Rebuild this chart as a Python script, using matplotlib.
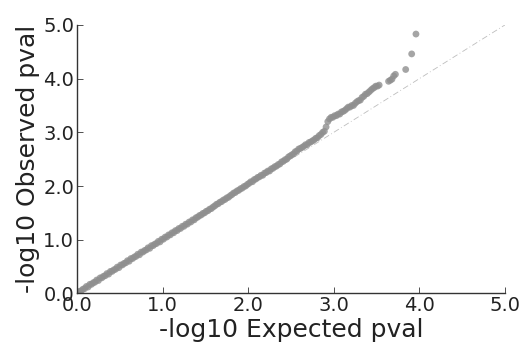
import matplotlib
matplotlib.use("Agg")
import matplotlib.pyplot as plt

expected = [
    0.01, 0.03, 0.05, 0.07, 0.09, 0.11, 0.13, 0.15, 0.17, 0.19,
    0.21, 0.23, 0.25, 0.27, 0.29, 0.31, 0.33, 0.35, 0.37, 0.39,
    0.41, 0.43, 0.45, 0.47, 0.49, 0.51, 0.53, 0.55, 0.57, 0.59,
    0.61, 0.63, 0.65, 0.67, 0.69, 0.71, 0.73, 0.75, 0.77, 0.79,
    0.81, 0.83, 0.85, 0.87, 0.89, 0.91, 0.93, 0.95, 0.97, 0.99,
    1.01, 1.03, 1.05, 1.07, 1.09, 1.11, 1.13, 1.15, 1.17, 1.19,
    1.21, 1.23, 1.25, 1.27, 1.29, 1.31, 1.33, 1.35, 1.37, 1.39,
    1.41, 1.43, 1.45, 1.47, 1.49, 1.51, 1.53, 1.55, 1.57, 1.59,
    1.61, 1.63, 1.65, 1.67, 1.69, 1.71, 1.73, 1.75, 1.77, 1.79,
    1.81, 1.83, 1.85, 1.87, 1.89, 1.91, 1.93, 1.95, 1.97, 1.99,
    2.01, 2.03, 2.05, 2.07, 2.09, 2.11, 2.13, 2.15, 2.17, 2.19,
    2.21, 2.23, 2.25, 2.27, 2.29, 2.31, 2.33, 2.35, 2.37, 2.39,
    2.41, 2.43, 2.45, 2.47, 2.49, 2.51, 2.53, 2.55, 2.57, 2.59,
    2.61, 2.63, 2.65, 2.67, 2.69, 2.71, 2.73, 2.75, 2.77, 2.79,
    2.81, 2.83, 2.85, 2.87, 2.89,
    2.91, 2.93, 2.95, 2.97, 2.99, 3.01, 3.03, 3.05, 3.07, 3.09,
    3.11, 3.13, 3.15, 3.17, 3.19, 3.21, 3.23, 3.25, 3.27, 3.29,
    3.31, 3.33, 3.35, 3.37, 3.39, 3.41, 3.43, 3.45, 3.47, 3.49,
    3.51, 3.53,
    3.64, 3.66, 3.68, 3.70, 3.72, 3.84, 3.91, 3.96,
]

observed = [
    0.02, 0.04, 0.05, 0.08, 0.09, 0.13, 0.12, 0.17, 0.17, 0.20,
    0.21, 0.25, 0.24, 0.29, 0.29, 0.32, 0.33, 0.37, 0.36, 0.41,
    0.41, 0.44, 0.45, 0.49, 0.48, 0.53, 0.53, 0.56, 0.57, 0.61,
    0.60, 0.65, 0.65, 0.68, 0.69, 0.73, 0.72, 0.77, 0.77, 0.80,
    0.81, 0.85, 0.84, 0.89, 0.89, 0.92, 0.93, 0.97, 0.96, 1.01,
    1.01, 1.05, 1.05, 1.09, 1.09, 1.13, 1.13, 1.17, 1.17, 1.21,
    1.21, 1.25, 1.25, 1.29, 1.29, 1.33, 1.33, 1.37, 1.37, 1.41,
    1.42, 1.45, 1.46, 1.49, 1.50, 1.53, 1.54, 1.57, 1.58, 1.61,
    1.63, 1.66, 1.67, 1.70, 1.71, 1.74, 1.75, 1.78, 1.79, 1.82,
    1.84, 1.87, 1.88, 1.91, 1.92, 1.95, 1.96, 1.99, 2.00, 2.03,
    2.05, 2.08, 2.08, 2.12, 2.13, 2.16, 2.17, 2.20, 2.20, 2.24,
    2.25, 2.28, 2.28, 2.32, 2.33, 2.36, 2.37, 2.40, 2.41, 2.45,
    2.46, 2.49, 2.50, 2.54, 2.56, 2.58, 2.60, 2.64, 2.65, 2.69,
    2.70, 2.72, 2.74, 2.77, 2.77, 2.81, 2.82, 2.84, 2.86, 2.89,
    2.90, 2.94, 2.96, 3.00, 3.02,
    3.10, 3.20, 3.25, 3.28, 3.28, 3.31, 3.31, 3.34, 3.34, 3.38,
    3.39, 3.41, 3.44, 3.47, 3.47, 3.50, 3.50, 3.54, 3.57, 3.59,
    3.60, 3.65, 3.67, 3.71, 3.72, 3.75, 3.78, 3.81, 3.83, 3.86,
    3.86, 3.88,
    3.95, 3.97, 3.99, 4.05, 4.08, 4.17, 4.46, 4.83,
]

ref_line = [0.0, 5.0]
ticks = [0.0, 1.0, 2.0, 3.0, 4.0, 5.0]
tick_labels = ["0.0", "1.0", "2.0", "3.0", "4.0", "5.0"]

fig = plt.figure(figsize=(5.31, 3.51), dpi=100)
ax = fig.add_axes([0.145, 0.164, 0.806, 0.765])

ax.plot(ref_line, ref_line, linestyle=(0, (7, 3, 1, 3)), color="#bdbdbd", linewidth=0.6, zorder=1)
ax.scatter(expected, observed, s=24, color="#8f8f8f", alpha=0.8, edgecolors="none", zorder=2)

ax.set_xlim(0, 5)
ax.set_ylim(0, 5)
ax.set_xticks(ticks)
ax.set_xticklabels(tick_labels)
ax.set_yticks(ticks)
ax.set_yticklabels(tick_labels)

for side in ("top", "right"):
    ax.spines[side].set_visible(False)
for side in ("left", "bottom"):
    ax.spines[side].set_linewidth(1.0)
    ax.spines[side].set_color("#333333")

ax.tick_params(direction="in", length=4, width=0.6, colors="#333333", labelsize=14, pad=2)
ax.tick_params(axis="both", labelcolor="#222222")

ax.set_xlabel("-log10 Expected pval", fontsize=18, color="#222222", labelpad=2)
ax.set_ylabel("-log10 Observed pval", fontsize=18, color="#222222", labelpad=2)

fig.savefig("out.png", dpi=100)
